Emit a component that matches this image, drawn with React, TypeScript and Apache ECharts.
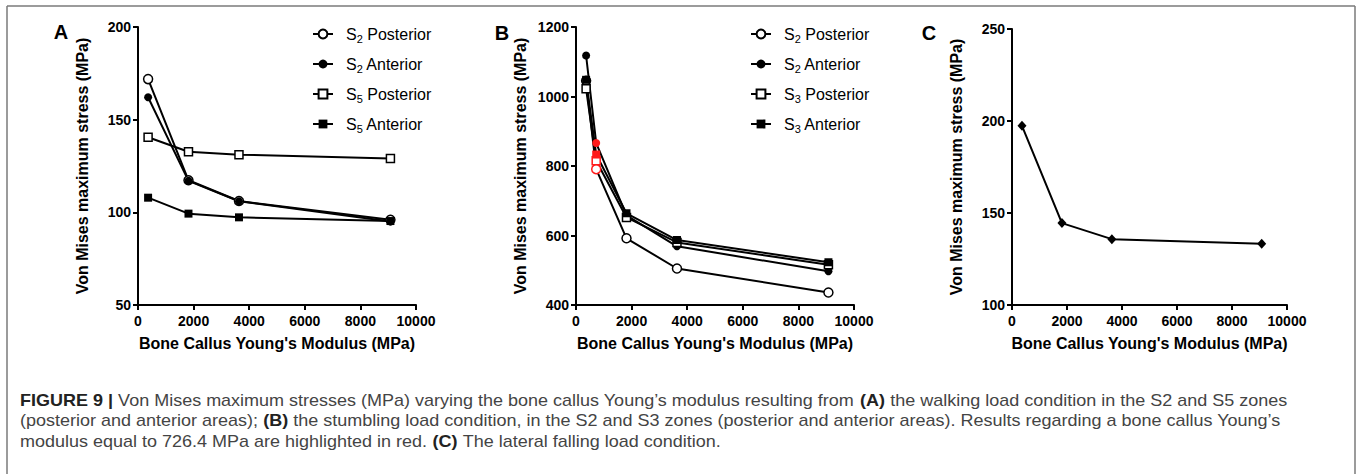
import React, { useEffect, useRef } from 'react';
import * as echarts from 'echarts';

// ---------- data ----------
const xWalking = [363.2, 1816, 3632, 9080];
const aS2Posterior = [171.9, 117.3, 106.1, 96.0];
const aS2Anterior = [162.1, 117.0, 106.0, 95.0];
const aS5Posterior = [140.5, 132.7, 131.1, 129.1];
const aS5Anterior = [107.9, 99.3, 97.3, 95.3];

const xStumbling = [363.2, 726.4, 1816, 3632, 9080];
const bS2Posterior = [1045, 791, 592, 505, 436];
const bS2Anterior = [1118, 866, 658, 569, 497];
const bS3Posterior = [1022, 815, 652, 580, 516];
const bS3Anterior = [1048, 833, 664, 587, 523];
const highlightX = 726.4;

const xFalling = [363.2, 1816, 3632, 9080];
const cLateral = [197.4, 144.5, 135.8, 133.3];

const xTicks = { min: 0, max: 10000, interval: 2000 };
const yTicksA = { min: 50, max: 200, interval: 50 };
const yTicksB = { min: 400, max: 1200, interval: 200 };
const yTicksC = { min: 100, max: 250, interval: 50 };

const legendA = ['S2 Posterior', 'S2 Anterior', 'S5 Posterior', 'S5 Anterior'];
const legendB = ['S2 Posterior', 'S2 Anterior', 'S3 Posterior', 'S3 Anterior'];

const X_TITLE = "Bone Callus Young's Modulus (MPa)";
const Y_TITLE = 'Von Mises maximum stress (MPa)';

const CAPTION_LINES: [string, boolean][][] = [
  [
    ['FIGURE 9 | ', true],
    ['Von Mises maximum stresses (MPa) varying the bone callus Young\u2019s modulus resulting from ', false],
    ['(A) ', true],
    ['the walking load condition in the S2 and S5 zones', false],
  ],
  [
    ['(posterior and anterior areas); ', false],
    ['(B) ', true],
    ['the stumbling load condition, in the S2 and S3 zones (posterior and anterior areas). Results regarding a bone callus Young\u2019s', false],
  ],
  [
    ['modulus equal to 726.4 MPa are highlighted in red. ', false],
    ['(C) ', true],
    ['The lateral falling load condition.', false],
  ],
];

// ---------- styling ----------
const FONT = '"Liberation Sans", Arial, Helvetica, sans-serif';
const RED = '#ff1a1a';
const CAP_SIZE = 16;

const OPEN = { color: '#ffffff', borderColor: '#000000', borderWidth: 1.5 };
const FILLED = { color: '#000000', borderColor: '#000000', borderWidth: 0 };
const RED_OPEN = { color: '#ffffff', borderColor: RED, borderWidth: 1.5 };
const RED_FILLED = { color: RED, borderColor: RED, borderWidth: 0 };

const plain = (v: number) => String(v);

function xAxisOf(gridIndex: number) {
  return {
    type: 'value',
    gridIndex,
    ...xTicks,
    name: X_TITLE,
    nameLocation: 'middle',
    nameGap: 30,
    nameTextStyle: { fontSize: 16, fontWeight: 'bold', color: '#000', fontFamily: FONT },
    axisLine: { show: true, onZero: false, lineStyle: { color: '#000', width: 2 } },
    axisTick: { show: true, length: 5, lineStyle: { color: '#000', width: 2 } },
    axisLabel: { fontSize: 14, fontWeight: 'bold', color: '#000', margin: 9, fontFamily: FONT, formatter: plain },
    splitLine: { show: false },
  };
}

function yAxisOf(gridIndex: number, ticks: { min: number; max: number; interval: number }) {
  return {
    type: 'value',
    gridIndex,
    ...ticks,
    name: Y_TITLE,
    nameLocation: 'middle',
    nameGap: 48,
    nameTextStyle: { fontSize: 16, fontWeight: 'bold', color: '#000', fontFamily: FONT },
    axisLine: { show: true, onZero: false, lineStyle: { color: '#000', width: 2 } },
    axisTick: { show: true, length: 5, lineStyle: { color: '#000', width: 2 } },
    axisLabel: { fontSize: 14, fontWeight: 'bold', color: '#000', margin: 7, fontFamily: FONT, formatter: plain },
    splitLine: { show: false },
  };
}

function lineSeries(
  name: string,
  idx: number,
  xs: number[],
  ys: number[],
  symbol: string,
  size: number | number[],
  itemStyle: any,
  redStyle?: any
) {
  return {
    type: 'line',
    name,
    xAxisIndex: idx,
    yAxisIndex: idx,
    color: '#000',
    data: xs.map((x, i) =>
      redStyle && x === highlightX ? { value: [x, ys[i]], itemStyle: redStyle } : [x, ys[i]]
    ),
    symbol,
    symbolSize: size,
    showSymbol: true,
    showAllSymbol: true,
    lineStyle: { color: '#000', width: 2 },
    itemStyle,
    emphasis: { disabled: true },
    silent: true,
  };
}

function legendOf(left: number, names: string[]) {
  return {
    orient: 'vertical',
    left,
    top: 19,
    itemWidth: 20,
    itemHeight: 11,
    itemGap: 10,
    selectedMode: false,
    data: names,
    formatter: (n: string) => `S{sub|${n.charAt(1)}} ${n.slice(3)}`,
    textStyle: {
      fontSize: 16,
      color: '#000',
      fontFamily: FONT,
      lineHeight: 20,
      padding: [0, 0, 0, 8],
      rich: {
        sub: { fontSize: 11, color: '#000', fontFamily: FONT, lineHeight: 12, verticalAlign: 'bottom' },
      },
    },
  };
}

function measure(segs: [string, boolean][]) {
  const ctx = document.createElement('canvas').getContext('2d')!;
  let w = 0;
  for (const [t, b] of segs) {
    ctx.font = `${b ? 'bold ' : ''}${CAP_SIZE}px ${FONT}`;
    w += ctx.measureText(t).width;
  }
  return w;
}

function captionGraphics() {
  const targetLine1 = 1268;
  const scale = targetLine1 / measure(CAPTION_LINES[0]);
  const ys = [401, 421, 442];
  return CAPTION_LINES.map((segs, i) => ({
    type: 'text',
    x: 20,
    y: ys[i],
    scaleX: scale,
    silent: true,
    style: {
      text: segs.map(([t, b]) => `{${b ? 'b' : 'r'}|${t}}`).join(''),
      align: 'left',
      verticalAlign: 'middle',
      rich: {
        b: { fontSize: CAP_SIZE, fontWeight: 'bold', fontFamily: FONT, fill: '#222' },
        r: { fontSize: CAP_SIZE, fontWeight: 'normal', fontFamily: FONT, fill: '#444' },
      },
    },
  }));
}

function panelLetter(t: string, x: number, y: number) {
  return {
    type: 'text',
    x,
    y,
    silent: true,
    style: {
      text: t,
      fontSize: 20,
      fontWeight: 'bold',
      fontFamily: FONT,
      fill: '#000',
      align: 'center',
      verticalAlign: 'middle',
    },
  };
}

function buildOption() {
  return {
    animation: false,
    backgroundColor: '#ffffff',
    grid: [
      { left: 138, top: 27, width: 278, height: 278 },
      { left: 576, top: 27, width: 278, height: 278 },
      { left: 1012, top: 29, width: 275, height: 276 },
    ],
    xAxis: [xAxisOf(0), xAxisOf(1), xAxisOf(2)],
    yAxis: [yAxisOf(0, yTicksA), yAxisOf(1, yTicksB), yAxisOf(2, yTicksC)],
    legend: [legendOf(307, legendA), legendOf(745, legendB)],
    series: [
      lineSeries('S2 Posterior', 0, xWalking, aS2Posterior, 'circle', 9, OPEN),
      lineSeries('S2 Anterior', 0, xWalking, aS2Anterior, 'circle', 8, FILLED),
      lineSeries('S5 Posterior', 0, xWalking, aS5Posterior, 'rect', 8, OPEN),
      lineSeries('S5 Anterior', 0, xWalking, aS5Anterior, 'rect', 8, FILLED),
      lineSeries('S2 Posterior', 1, xStumbling, bS2Posterior, 'circle', 9, OPEN, RED_OPEN),
      lineSeries('S2 Anterior', 1, xStumbling, bS2Anterior, 'circle', 8, FILLED, RED_FILLED),
      lineSeries('S3 Posterior', 1, xStumbling, bS3Posterior, 'rect', 8, OPEN, RED_OPEN),
      lineSeries('S3 Anterior', 1, xStumbling, bS3Anterior, 'rect', 8, FILLED, RED_FILLED),
      lineSeries('Lateral falling', 2, xFalling, cLateral, 'diamond', [9, 10], FILLED),
    ],
    graphic: [
      { type: 'line', silent: true, shape: { x1: 7, y1: 6, x2: 1355, y2: 6 }, style: { stroke: '#7a7a7a', lineWidth: 1.5 } },
      { type: 'line', silent: true, shape: { x1: 7, y1: 6, x2: 7, y2: 474 }, style: { stroke: '#7a7a7a', lineWidth: 1.5 } },
      { type: 'line', silent: true, shape: { x1: 1355, y1: 6, x2: 1355, y2: 474 }, style: { stroke: '#7a7a7a', lineWidth: 1.5 } },
      panelLetter('A', 61, 32),
      panelLetter('B', 502, 33),
      panelLetter('C', 929, 33),
      ...captionGraphics(),
    ],
  };
}

export default function App() {
  const ref = useRef<HTMLDivElement>(null);
  useEffect(() => {
    const chart = echarts.init(ref.current!, null, { renderer: 'svg' });
    chart.setOption(buildOption() as any);
    return () => chart.dispose();
  }, []);
  return (
    <div
      ref={ref}
      style={{ position: 'fixed', left: 0, top: 0, width: 1357, height: 474, background: '#ffffff' }}
    />
  );
}
